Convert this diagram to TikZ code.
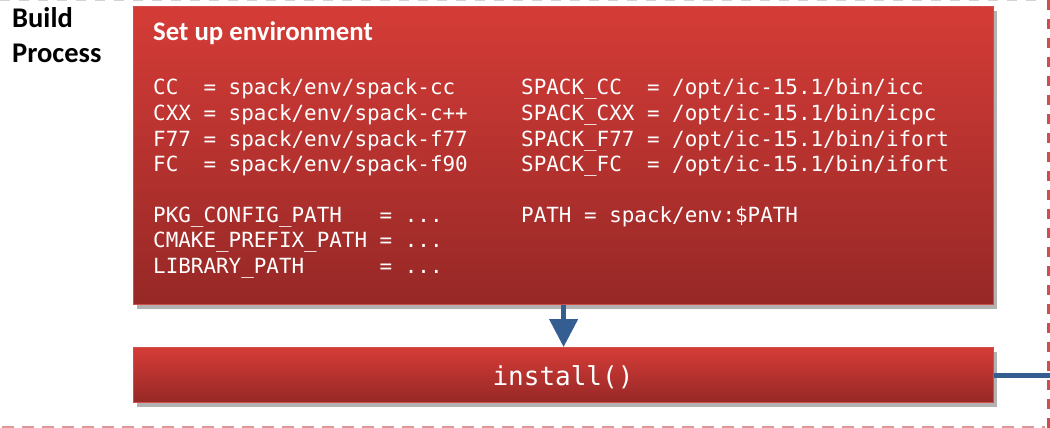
\documentclass[tikz,border=0pt]{standalone}
\usepackage{fontspec}
\setmainfont{Carlito}
\newfontfamily\mono{DejaVu Sans Mono}
\usetikzlibrary{shadows,arrows.meta}
\definecolor{redtop}{RGB}{213,60,55}
\definecolor{redbot}{RGB}{150,40,38}
\definecolor{redline}{RGB}{205,80,76}
\definecolor{flowblue}{RGB}{52,94,145}
\definecolor{dashred}{RGB}{205,78,76}
\definecolor{dashpink}{RGB}{222,150,150}
\begin{document}
\begin{tikzpicture}[x=1pt,y=-1pt,
  redbox/.style={draw=redline, line width=1.2pt, top color=redtop, bottom color=redbot,
    inner sep=0pt, anchor=north west,
    drop shadow={shadow xshift=3pt, shadow yshift=-4pt, opacity=0.3, fill=black}},
  code/.style={font=\mono\fontsize{20.9}{25.5}\selectfont, text=white, inner sep=0pt, anchor=base west},
  heading/.style={font=\bfseries\fontsize{28.5}{35}\selectfont, inner sep=0pt, anchor=base west},
  flow/.style={draw=flowblue, line width=4.5pt}
]
\useasboundingbox (0,0) rectangle (1050,428);
\fill[white] (0,0) rectangle (1050,428);

% frame dashes
\draw[gray!35, line width=2pt, dash pattern=on 10pt off 9pt] (0,0) -- (1045,0);
\draw[dashpink, line width=1.5pt, dash pattern=on 12pt off 8pt] (2,427) -- (1045,427);
\draw[dashred, line width=3pt, dash pattern=on 10pt off 9pt] (1048,0) -- (1048,428);

% heading
\node[heading] (build) at (12,28) {Build};
\node[heading] (process) at (12,63) {Process};

% boxes
\node[redbox, minimum width=860pt, minimum height=298pt] (env) at (133,6) {};
\node[redbox, minimum width=860pt, minimum height=55pt] (inst) at (133,347) {};

% environment text
\node[font=\bfseries\fontsize{26.8}{30}\selectfont, text=white, inner sep=0pt, anchor=base west] (title) at (153,41) {Set up environment};

\node[code] (c1) at (153,95) {CC\ \ = spack/env/spack-cc};
\node[code] (c2) at (153,120.5) {CXX = spack/env/spack-c++};
\node[code] (c3) at (153,146) {F77 = spack/env/spack-f77};
\node[code] (c4) at (153,171.5) {FC\ \ = spack/env/spack-f90};

\node[code] (s1) at (521,95) {SPACK\_CC\ \ = /opt/ic-15.1/bin/icc};
\node[code] (s2) at (521,120.5) {SPACK\_CXX = /opt/ic-15.1/bin/icpc};
\node[code] (s3) at (521,146) {SPACK\_F77 = /opt/ic-15.1/bin/ifort};
\node[code] (s4) at (521,171.5) {SPACK\_FC\ \ = /opt/ic-15.1/bin/ifort};

\node[code] (p1) at (153,222) {PKG\_CONFIG\_PATH\ \ \ = ...};
\node[code] (p2) at (153,247.5) {CMAKE\_PREFIX\_PATH = ...};
\node[code] (p3) at (153,273) {LIBRARY\_PATH\ \ \ \ \ \ = ...};
\node[code] (path) at (521,222) {PATH = spack/env:\$PATH};

% install
\node[font=\mono\fontsize{26}{30}\selectfont, text=white, inner sep=0pt, anchor=base] (instlbl) at (563,385) {install()};

% connectors
\coordinate (exit) at (1052,375);
\draw[flow, -{Triangle[width=28pt,length=28pt]}] (env.south) -- (inst.north);
\draw[flow, line width=5pt] (inst.east |- exit) -- (exit);
\end{tikzpicture}
\end{document}
